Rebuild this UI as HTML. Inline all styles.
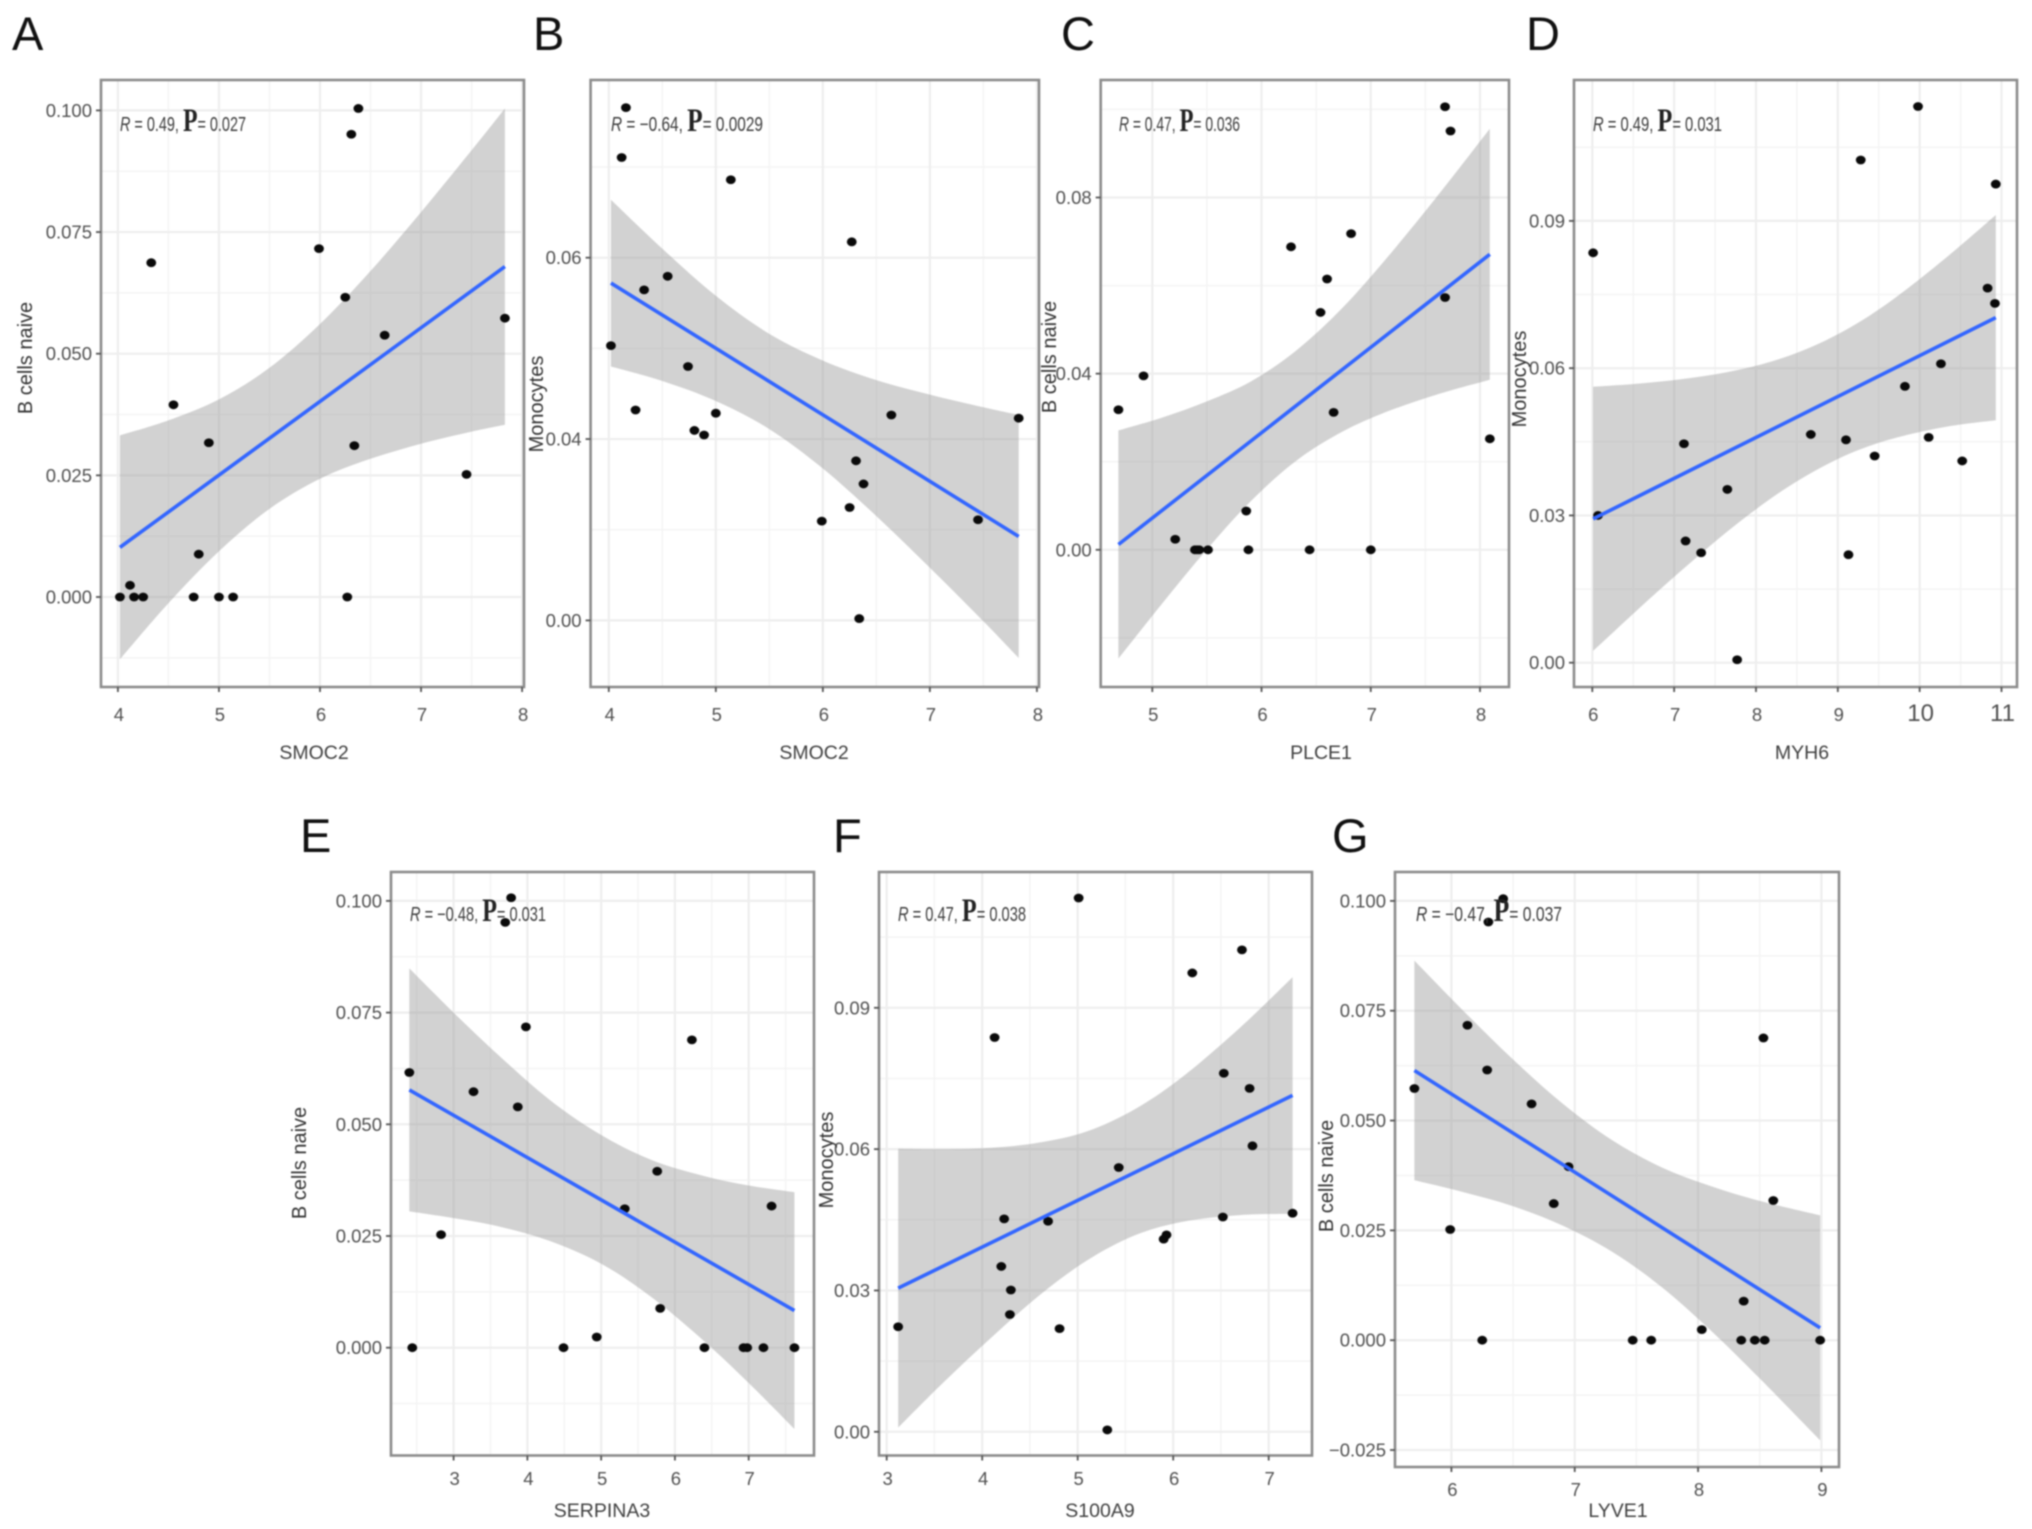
<!DOCTYPE html>
<html lang="en">
<head>
<meta charset="utf-8">
<title>Gene expression and immune cell correlation scatter plots</title>
<style>
html,body{margin:0;padding:0;background:#fff;}
body{width:2032px;height:1529px;overflow:hidden;}
svg{display:block;filter:blur(0.7px);}
text{font-family:"Liberation Sans",sans-serif;}
.letter{font-size:47px;fill:#111;}
.tick{font-size:18.5px;fill:#505050;}
.xtitle{font-size:19.5px;fill:#404040;text-anchor:middle;}
.ytitle{font-size:20px;fill:#333;text-anchor:middle;}
.note{font-size:20px;fill:#3c3c3c;}
.note .r{font-style:italic;}
.note .p{font-family:"Liberation Serif",serif;font-size:33px;fill:#222;font-weight:bold;}
</style>
</head>
<body>
<svg id="figure" width="2032" height="1529" viewBox="0 0 2032 1529" xmlns="http://www.w3.org/2000/svg">
  <rect x="0" y="0" width="2032" height="1529" fill="#fff"/>

  <g>
    <g id="plot-a"></g>
    <text class="letter" x="12" y="50">A</text>
    <text class="xtitle" x="314" y="759">SMOC2</text>
    <text class="ytitle" transform="translate(32,358) rotate(-90)">B cells naive</text>
    <text class="note" x="120" y="131" textLength="126" lengthAdjust="spacingAndGlyphs"><tspan class="r">R</tspan> = 0.49, <tspan class="p">P</tspan>= 0.027</text>
  </g>

  <g>
    <g id="plot-b"></g>
    <text class="letter" x="533" y="50">B</text>
    <text class="xtitle" x="814" y="759">SMOC2</text>
    <text class="ytitle" transform="translate(543,404) rotate(-90)">Monocytes</text>
    <text class="note" x="611" y="131" textLength="152" lengthAdjust="spacingAndGlyphs"><tspan class="r">R</tspan> = −0.64, <tspan class="p">P</tspan>= 0.0029</text>
  </g>

  <g>
    <g id="plot-c"></g>
    <text class="letter" x="1061" y="50">C</text>
    <text class="xtitle" x="1321" y="759">PLCE1</text>
    <text class="ytitle" transform="translate(1056,357) rotate(-90)">B cells naive</text>
    <text class="note" x="1119" y="131" textLength="121" lengthAdjust="spacingAndGlyphs"><tspan class="r">R</tspan> = 0.47, <tspan class="p">P</tspan>= 0.036</text>
  </g>

  <g>
    <g id="plot-d"></g>
    <text class="letter" x="1526" y="50">D</text>
    <text class="xtitle" x="1802" y="759">MYH6</text>
    <text class="ytitle" transform="translate(1526,379) rotate(-90)">Monocytes</text>
    <text class="note" x="1593" y="131" textLength="129" lengthAdjust="spacingAndGlyphs"><tspan class="r">R</tspan> = 0.49, <tspan class="p">P</tspan>= 0.031</text>
  </g>

  <g>
    <g id="plot-e"></g>
    <text class="letter" x="300" y="852">E</text>
    <text class="xtitle" x="602" y="1517">SERPINA3</text>
    <text class="ytitle" transform="translate(306,1163) rotate(-90)">B cells naive</text>
    <text class="note" x="410" y="921" textLength="136" lengthAdjust="spacingAndGlyphs"><tspan class="r">R</tspan> = −0.48, <tspan class="p">P</tspan>= 0.031</text>
  </g>

  <g>
    <g id="plot-f"></g>
    <text class="letter" x="833" y="852">F</text>
    <text class="xtitle" x="1100" y="1517">S100A9</text>
    <text class="ytitle" transform="translate(833,1160) rotate(-90)">Monocytes</text>
    <text class="note" x="898" y="921" textLength="128" lengthAdjust="spacingAndGlyphs"><tspan class="r">R</tspan> = 0.47, <tspan class="p">P</tspan>= 0.038</text>
  </g>

  <g>
    <g id="plot-g"></g>
    <text class="letter" x="1332" y="852">G</text>
    <text class="xtitle" x="1618" y="1517">LYVE1</text>
    <text class="ytitle" transform="translate(1333,1176) rotate(-90)">B cells naive</text>
    <text class="note" x="1416" y="921" textLength="146" lengthAdjust="spacingAndGlyphs"><tspan class="r">R</tspan> = −0.47, <tspan class="p">P</tspan>= 0.037</text>
  </g>
</svg>

<script>
// ---------- Panel A: SMOC2 vs B cells naive ----------
const aX = [4.02,4.12,4.16,4.25,4.33,4.55,4.75,4.80,4.90,5.00,5.14,5.99,6.25,6.27,6.31,6.34,6.38,6.64,7.45,7.83];
const aY = [0,0.0024,0,0,0.0687,0.0395,0,0.0088,0.0317,0,0,0.0716,0.0616,0,0.0951,0.0311,0.1004,0.0538,0.0252,0.0573];
const aFitX = [4.02,7.83];
const aFitY = [0.0102,0.0679];
const aBandX = [4.02,4.5,5.0,5.5,6.0,6.5,7.0,7.5,7.83];
const aBandHigh = [0.0332,0.0363,0.0406,0.0471,0.0561,0.0670,0.0791,0.0918,0.1004];
const aBandLow = [-0.0128,-0.0013,0.0094,0.0181,0.0243,0.0284,0.0315,0.0340,0.0354];
const aXTicks = [4,5,6,7,8];
const aXLabels = ["4","5","6","7","8"];
const aYTicks = [0,0.025,0.05,0.075,0.1];
const aYLabels = ["0.000","0.025","0.050","0.075","0.100"];

// ---------- Panel B: SMOC2 vs Monocytes ----------
const bX = [4.02,4.12,4.16,4.25,4.33,4.55,4.74,4.80,4.89,5.00,5.14,5.99,6.25,6.27,6.31,6.34,6.38,6.64,7.45,7.83];
const bY = [0.0606,0.1021,0.1131,0.0464,0.0729,0.0759,0.0560,0.0419,0.0409,0.0457,0.0972,0.0219,0.0249,0.0835,0.0352,0.0004,0.0301,0.0453,0.0222,0.0446];
const bFitX = [4.02,7.83];
const bFitY = [0.0744,0.0185];
const bBandX = [4.02,4.5,5.0,5.5,6.0,6.5,7.0,7.5,7.83];
const bBandHigh = [0.0928,0.0820,0.0716,0.0632,0.0573,0.0530,0.0498,0.0470,0.0453];
const bBandLow = [0.0560,0.0528,0.0484,0.0422,0.0335,0.0230,0.0116,-0.0002,-0.0083];
const bXTicks = [4,5,6,7,8];
const bXLabels = ["4","5","6","7","8"];
const bYTicks = [0,0.04,0.08];
const bYLabels = ["0.00","0.04","0.06"];

// ---------- Panel C: PLCE1 vs B cells naive ----------
const cX = [4.69,4.92,5.21,5.39,5.41,5.43,5.51,5.86,5.88,6.27,6.44,6.54,6.60,6.66,6.82,7.00,7.68,7.68,7.73,8.09];
const cY = [0.0318,0.0395,0.0024,0,0,0,0,0.0088,0,0.0688,0,0.0539,0.0615,0.0312,0.0718,0,0.0573,0.1006,0.0951,0.0252];
const cFitX = [4.69,8.09];
const cFitY = [0.0012,0.0671];
const cBandX = [4.69,5.1,5.5,5.9,6.3,6.7,7.1,7.6,8.09];
const cBandHigh = [0.0271,0.0301,0.0337,0.0382,0.0449,0.0539,0.0649,0.0800,0.0956];
const cBandLow = [-0.0247,-0.0119,0.0001,0.0110,0.0199,0.0263,0.0309,0.0352,0.0386];
const cXTicks = [5,6,7,8];
const cXLabels = ["5","6","7","8"];
const cYTicks = [0,0.04,0.08];
const cYLabels = ["0.00","0.04","0.08"];

// ---------- Panel D: MYH6 vs Monocytes ----------
const dX = [6.01,6.07,7.12,7.14,7.33,7.65,7.77,8.67,9.10,9.13,9.28,9.45,9.82,9.98,10.11,10.26,10.52,10.83,10.92,10.93];
const dY = [0.0835,0.0300,0.0446,0.0248,0.0224,0.0353,0.0006,0.0465,0.0454,0.0220,0.1024,0.0421,0.0563,0.1133,0.0459,0.0609,0.0411,0.0763,0.0732,0.0975];
const dFitX = [6.01,10.93];
const dFitY = [0.0293,0.0703];
const dBandX = [6.01,6.6,7.2,7.8,8.4,9.0,9.6,10.3,10.93];
const dBandHigh = [0.0562,0.0569,0.0580,0.0597,0.0625,0.0669,0.0731,0.0822,0.0912];
const dBandLow = [0.0024,0.0115,0.0204,0.0287,0.0359,0.0415,0.0453,0.0480,0.0494];
const dXTicks = [6,7,8,9,10,11];
const dXLabels = ["6","7","8","9","10","11"];
const dYTicks = [0,0.03,0.06,0.09];
const dYLabels = ["0.00","0.03","0.06","0.09"];

// ---------- Panel E: SERPINA3 vs B cells naive ----------
const eX = [2.40,2.44,2.83,3.27,3.70,3.78,3.87,3.98,4.49,4.94,5.32,5.76,5.80,6.23,6.40,6.93,6.98,7.20,7.31,7.62];
const eY = [0.0616,0,0.0253,0.0573,0.0952,0.1007,0.0539,0.0718,0,0.0024,0.0311,0.0395,0.0088,0.0689,0,0,0,0,0.0317,0];
const eFitX = [2.40,7.62];
const eFitY = [0.0577,0.0083];
const eBandX = [2.4,3.0,3.6,4.3,5.0,5.7,6.4,7.0,7.62];
const eBandHigh = [0.0849,0.0750,0.0656,0.0555,0.0476,0.0419,0.0384,0.0363,0.0348];
const eBandLow = [0.0305,0.0290,0.0272,0.0239,0.0188,0.0111,0.0014,-0.0079,-0.0182];
const eXTicks = [3,4,5,6,7];
const eXLabels = ["3","4","5","6","7"];
const eYTicks = [0,0.025,0.05,0.075,0.1];
const eYLabels = ["0.000","0.025","0.050","0.075","0.100"];

// ---------- Panel F: S100A9 vs Monocytes ----------
const fX = [3.12,4.13,4.20,4.23,4.29,4.30,4.69,4.81,5.01,5.31,5.43,5.90,5.93,6.20,6.52,6.53,6.72,6.80,6.83,7.25];
const fY = [0.0223,0.0837,0.0351,0.0452,0.0249,0.0301,0.0447,0.0219,0.1133,0.0004,0.0561,0.0409,0.0418,0.0974,0.0456,0.0761,0.1023,0.0729,0.0607,0.0464];
const fFitX = [3.12,7.25];
const fFitY = [0.0305,0.0714];
const fBandX = [3.12,3.6,4.1,4.6,5.1,5.6,6.1,6.7,7.25];
const fBandHigh = [0.0601,0.0600,0.0603,0.0614,0.0638,0.0685,0.0754,0.0858,0.0965];
const fBandLow = [0.0009,0.0106,0.0201,0.0290,0.0364,0.0417,0.0446,0.0460,0.0463];
const fXTicks = [3,4,5,6,7];
const fXLabels = ["3","4","5","6","7"];
const fYTicks = [0,0.03,0.06,0.09];
const fYLabels = ["0.00","0.03","0.06","0.09"];

// ---------- Panel G: LYVE1 vs B cells naive ----------
const gX = [5.70,5.99,6.13,6.25,6.29,6.30,6.42,6.65,6.83,6.95,7.47,7.62,8.03,8.35,8.37,8.46,8.53,8.54,8.61,8.99];
const gY = [0.0573,0.0252,0.0717,0,0.0615,0.0952,0.1005,0.0538,0.0311,0.0395,0,0,0.0024,0,0.0089,0,0.0688,0,0.0318,0];
const gFitX = [5.70,8.99];
const gFitY = [0.0614,0.0028];
const gBandX = [5.7,6.1,6.5,6.9,7.3,7.7,8.1,8.5,8.99];
const gBandHigh = [0.0864,0.0749,0.0639,0.0539,0.0456,0.0394,0.0351,0.0317,0.0284];
const gBandLow = [0.0364,0.0337,0.0305,0.0261,0.0202,0.0122,0.0023,-0.0087,-0.0228];
const gXTicks = [6,7,8,9];
const gXLabels = ["6","7","8","9"];
const gYTicks = [-0.025,0,0.025,0.05,0.075,0.1];
const gYLabels = ["\u22120.025","0.000","0.025","0.050","0.075","0.100"];

// ---------- Panel wiring: data arrays plus axis calibration and frame layout ----------
const figurePanels = [
  {id:"a",x:aX,y:aY,fitX:aFitX,fitY:aFitY,bandX:aBandX,bandHigh:aBandHigh,bandLow:aBandLow,xTicks:aXTicks,xLabels:aXLabels,yTicks:aYTicks,yLabels:aYLabels,
   frame:{l:101,t:80,r:524,b:687},xCal:[4,117.9,8,522.1],yCal:[0,597,0.1,110.4],xLabelY:721},
  {id:"b",x:bX,y:bY,fitX:bFitX,fitY:bFitY,bandX:bBandX,bandHigh:bBandHigh,bandLow:bBandLow,xTicks:bXTicks,xLabels:bXLabels,yTicks:bYTicks,yLabels:bYLabels,
   frame:{l:590.6,t:80,r:1039,b:687},xCal:[4,608.8,8,1036.9],yCal:[0,620.4,0.08,257.7],xLabelY:721},
  {id:"c",x:cX,y:cY,fitX:cFitX,fitY:cFitY,bandX:cBandX,bandHigh:cBandHigh,bandLow:cBandLow,xTicks:cXTicks,xLabels:cXLabels,yTicks:cYTicks,yLabels:cYLabels,
   frame:{l:1100.7,t:80,r:1509,b:687},xCal:[5,1152.3,8,1480],yCal:[0,549.8,0.08,197.5],xLabelY:721},
  {id:"d",x:dX,y:dY,fitX:dFitX,fitY:dFitY,bandX:dBandX,bandHigh:dBandHigh,bandLow:dBandLow,xTicks:dXTicks,xLabels:dXLabels,yTicks:dYTicks,yLabels:dYLabels,
   frame:{l:1574,t:80,r:2017,b:687},xCal:[6,1592.3,11,2001.5],yCal:[0,662.7,0.09,220.9],xLabelY:721,wideTickSize:24},
  {id:"e",x:eX,y:eY,fitX:eFitX,fitY:eFitY,bandX:eBandX,bandHigh:eBandHigh,bandLow:eBandLow,xTicks:eXTicks,xLabels:eXLabels,yTicks:eYTicks,yLabels:eYLabels,
   frame:{l:391,t:872,r:814,b:1455.5},xCal:[3,453.6,7,748.7],yCal:[0,1347.7,0.1,900.9],xLabelY:1485},
  {id:"f",x:fX,y:fY,fitX:fFitX,fitY:fFitY,bandX:fBandX,bandHigh:fBandHigh,bandLow:fBandLow,xTicks:fXTicks,xLabels:fXLabels,yTicks:fYTicks,yLabels:fYLabels,
   frame:{l:879,t:872,r:1312,b:1455.5},xCal:[3,886.7,7,1268.7],yCal:[0,1431.8,0.09,1007.8],xLabelY:1485},
  {id:"g",x:gX,y:gY,fitX:gFitX,fitY:gFitY,bandX:gBandX,bandHigh:gBandHigh,bandLow:gBandLow,xTicks:gXTicks,xLabels:gXLabels,yTicks:gYTicks,yLabels:gYLabels,
   frame:{l:1395,t:872,r:1839,b:1467},xCal:[6,1451.4,9,1821.4],yCal:[0,1340.2,0.1,900.9],xLabelY:1496}
];

const SVG_NS = "http://www.w3.org/2000/svg";

function makeShape(tag, parent, attrs) {
  const node = document.createElementNS(SVG_NS, tag);
  for (const key in attrs) node.setAttribute(key, attrs[key]);
  parent.appendChild(node);
  return node;
}

function linearAxis(cal) {
  const slope = (cal[3] - cal[1]) / (cal[2] - cal[0]);
  return function (v) { return cal[1] + (v - cal[0]) * slope; };
}

// Catmull-Rom smoothing through pts, as bezier segments after the current point
function smoothSegments(pts) {
  let d = "";
  for (let i = 0; i < pts.length - 1; i++) {
    const p0 = pts[Math.max(i - 1, 0)], p1 = pts[i], p2 = pts[i + 1], p3 = pts[Math.min(i + 2, pts.length - 1)];
    const c1x = p1[0] + (p2[0] - p0[0]) / 6, c1y = p1[1] + (p2[1] - p0[1]) / 6;
    const c2x = p2[0] - (p3[0] - p1[0]) / 6, c2y = p2[1] - (p3[1] - p1[1]) / 6;
    d += " C" + c1x.toFixed(1) + " " + c1y.toFixed(1) + " " + c2x.toFixed(1) + " " + c2y.toFixed(1) + " " + p2[0].toFixed(1) + " " + p2[1].toFixed(1);
  }
  return d;
}

function minorValues(ticks) {
  const step = ticks[1] - ticks[0];
  const out = [];
  for (let k = -2; k < ticks.length + 2; k++) out.push(ticks[0] + (k + 0.5) * step);
  return out;
}

function drawPanel(p) {
  const root = document.getElementById("plot-" + p.id);
  const sx = linearAxis(p.xCal);
  const sy = linearAxis(p.yCal);
  const f = p.frame;

  minorValues(p.xTicks).forEach(function (v) {
    const px = sx(v);
    if (px <= f.l + 4 || px >= f.r - 4) return;
    const el = makeShape("line", root, {x1: px, x2: px, y1: f.t, y2: f.b, stroke: "#f4f4f4", "stroke-width": 1.5});
    
    
  });
  minorValues(p.yTicks).forEach(function (v) {
    const py = sy(v);
    if (py <= f.t + 4 || py >= f.b - 4) return;
    const el = makeShape("line", root, {x1: f.l, x2: f.r, y1: py, y2: py, stroke: "#f4f4f4", "stroke-width": 1.5});
    
    
  });
  p.xTicks.forEach(function (v) {
    const px = sx(v);
    const el = makeShape("line", root, {x1: px, x2: px, y1: f.t, y2: f.b, stroke: "#eeeeee", "stroke-width": 2.2});
    
    
  });
  p.yTicks.forEach(function (v) {
    const py = sy(v);
    const el = makeShape("line", root, {x1: f.l, x2: f.r, y1: py, y2: py, stroke: "#eeeeee", "stroke-width": 2.2});
    
    
  });

  const high = p.bandX.map(function (v, i) { return [sx(v), sy(p.bandHigh[i])]; });
  const low = p.bandX.map(function (v, i) { return [sx(v), sy(p.bandLow[i])]; }).reverse();
  const ribbonPath = "M" + high[0][0].toFixed(1) + " " + high[0][1].toFixed(1) + smoothSegments(high) +
    " L" + low[0][0].toFixed(1) + " " + low[0][1].toFixed(1) + smoothSegments(low) + " Z";
  const ribbon = makeShape("path", root, {d: ribbonPath, fill: "#999999", "fill-opacity": 0.44});
  
  

  p.x.forEach(function (v, i) {
    const el = makeShape("ellipse", root, {cx: sx(v), cy: sy(p.y[i]), rx: 4.9, ry: 4.4, fill: "#0a0a0a"});
    
    
  });

  const fit = makeShape("line", root, {
    x1: sx(p.fitX[0]), y1: sy(p.fitY[0]), x2: sx(p.fitX[1]), y2: sy(p.fitY[1]),
    stroke: "#3366ff", "stroke-width": 3.6
  });
  
  

  const border = makeShape("rect", root, {x: f.l, y: f.t, width: f.r - f.l, height: f.b - f.t, fill: "none", stroke: "#8c8c8c", "stroke-width": 2.6});
  
  

  p.xTicks.forEach(function (v, i) {
    const px = sx(v);
    const mark = makeShape("line", root, {x1: px, x2: px, y1: f.b, y2: f.b + 5, stroke: "#555", "stroke-width": 1.8});
    
    
    const label = makeShape("text", root, {x: px + 1, y: p.xLabelY, "text-anchor": "middle", "class": "tick"});
    label.textContent = p.xLabels[i];
    if (p.wideTickSize && p.xLabels[i].length > 1) label.style.fontSize = p.wideTickSize + "px";
    
    
  });
  p.yTicks.forEach(function (v, i) {
    const py = sy(v);
    const mark = makeShape("line", root, {x1: f.l - 5, x2: f.l, y1: py, y2: py, stroke: "#555", "stroke-width": 1.8});
    
    
    const label = makeShape("text", root, {x: f.l - 9, y: py + 6.5, "text-anchor": "end", "class": "tick"});
    label.textContent = p.yLabels[i];
    
    
  });
}

figurePanels.forEach(drawPanel);
</script>
</body>
</html>
